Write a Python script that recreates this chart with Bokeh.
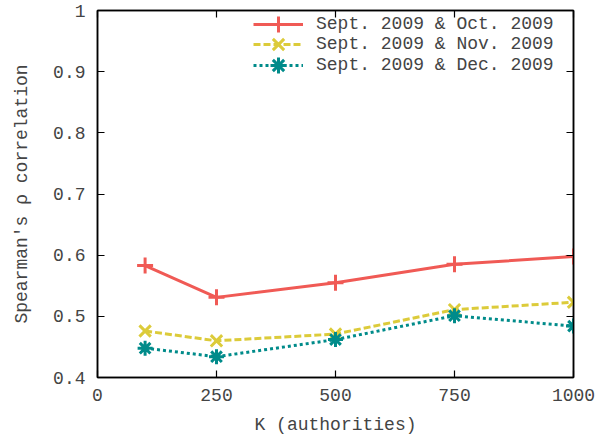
from bokeh.plotting import figure
from bokeh.embed import file_html
from bokeh.resources import INLINE
from bokeh.models import FixedTicker, CustomJSTickFormatter, LinearAxis, Range1d, Legend, LegendItem

K = [100, 250, 500, 750, 1000]
oct_vals = [0.583, 0.531, 0.555, 0.585, 0.598]
nov_vals = [0.476, 0.460, 0.471, 0.511, 0.523]
dec_vals = [0.448, 0.434, 0.462, 0.501, 0.484]
labels = ["Sept. 2009 & Oct. 2009", "Sept. 2009 & Nov. 2009", "Sept. 2009 & Dec. 2009"]
x_ticks = [0, 250, 500, 750, 1000]
y_ticks = [0.4, 0.5, 0.6, 0.7, 0.8, 0.9, 1.0]

FONT = "Liberation Mono"
FS = "18px"
TXT = "#444444"

p = figure(width=605, height=437, output_backend="svg", toolbar_location=None,
           x_range=Range1d(0, 1000), y_range=Range1d(0.4, 1.0),
           min_border_left=97, min_border_right=32, min_border_top=10, min_border_bottom=59)
p.grid.visible = False
p.background_fill_color = "white"
p.border_fill_color = "white"
p.outline_line_color = "black"
p.outline_line_width = 1.5

fmt = CustomJSTickFormatter(code="return String(Math.round(tick*10)/10);")

for ax in p.xaxis:
    ax.ticker = FixedTicker(ticks=x_ticks)
for ax in p.yaxis:
    ax.ticker = FixedTicker(ticks=y_ticks)
    ax.formatter = fmt

for ax in list(p.xaxis) + list(p.yaxis):
    ax.major_tick_in = 7
    ax.major_tick_out = 0
    ax.minor_tick_line_color = None
    ax.axis_line_color = "black"
    ax.axis_line_width = 1.5
    ax.major_tick_line_color = "black"
    ax.major_tick_line_width = 1.2
    ax.major_label_text_font = FONT
    ax.major_label_text_font_size = FS
    ax.major_label_text_color = TXT
    ax.axis_label_text_font = FONT
    ax.axis_label_text_font_size = FS
    ax.axis_label_text_font_style = "normal"
    ax.axis_label_text_color = TXT

p.xaxis.axis_label = "K (authorities)"
p.yaxis.axis_label = "Spearman's \u03c1 correlation"
p.xaxis.major_label_standoff = 11
p.xaxis.axis_label_standoff = 11
p.yaxis.major_label_standoff = 12
p.yaxis.axis_label_standoff = 18

top = LinearAxis(ticker=FixedTicker(ticks=x_ticks), major_label_text_font_size="0px",
                 major_tick_in=7, major_tick_out=0, minor_tick_line_color=None,
                 axis_line_width=1.5, major_tick_line_width=1.2)
right = LinearAxis(ticker=FixedTicker(ticks=y_ticks), major_label_text_font_size="0px",
                   major_tick_in=7, major_tick_out=0, minor_tick_line_color=None,
                   axis_line_width=1.5, major_tick_line_width=1.2)
top.major_label_text_color = None
right.major_label_text_color = None
p.add_layout(top, "above")
p.add_layout(right, "right")

red = "#f05a55"
yel = "#dccb3a"
teal = "#008b8a"

l1 = p.line(K, oct_vals, line_color=red, line_width=3)
s1 = p.scatter(K, oct_vals, marker="cross", size=16, line_color=red, line_width=3)
l2 = p.line(K, nov_vals, line_color=yel, line_width=3, line_dash="7 3")
s2 = p.scatter(K, nov_vals, marker="x", size=16, line_color=yel, line_width=3)
l3 = p.line(K, dec_vals, line_color=teal, line_width=3, line_dash="3 3")
s3 = p.scatter(K, dec_vals, marker="asterisk", size=15, line_color=teal, line_width=3)

rows = [(labels[0], [l1, s1]), (labels[1], [l2, s2]), (labels[2], [l3, s3])]
for i, (lab, rs) in enumerate(rows):
    lg = Legend(items=[LegendItem(label=lab, renderers=rs)],
                location=(156, 333.5 - 20.5 * i))
    lg.margin = 0
    lg.padding = 0
    lg.spacing = 0
    lg.border_line_alpha = 0
    lg.background_fill_alpha = 0
    lg.glyph_width = 50
    lg.glyph_height = 40
    lg.label_height = 19
    lg.label_standoff = 13
    lg.label_text_font = FONT
    lg.label_text_font_size = "18px"
    lg.label_text_color = TXT
    p.add_layout(lg, "center")

open("out.html", "w").write(file_html(p, INLINE))
